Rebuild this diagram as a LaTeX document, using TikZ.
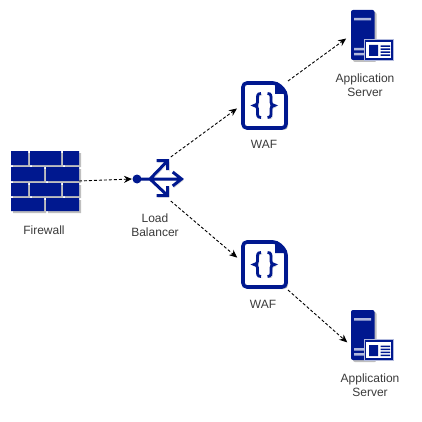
\documentclass[tikz,border=0pt]{standalone}
\usepackage{fontspec}
\setmainfont{Liberation Sans}
\usetikzlibrary{arrows.meta,shadows}
\definecolor{wafblue}{HTML}{00188F}
\definecolor{lbltext}{HTML}{3A3A3A}
\tikzset{
% Empty boxes that hold the icons and take the connectors
icon box/.style={rectangle,inner sep=0,outer sep=0,minimum width=#1},
icon shadow/.style={drop shadow={shadow xshift=2pt,shadow yshift=-2pt,opacity=.25,fill=black}},
line shadow/.style={preaction={draw=black,draw opacity=.2,transform canvas={shift={(1.5pt,-1.5pt)}}}},
link/.style={dash pattern=on 3pt off 2pt,line width=.9pt,black,-{Stealth[length=8pt,width=7pt]}},
lbl/.style={align=center,text=lbltext,font=\fontsize{12}{14}\selectfont,inner sep=0},
% Icons, drawn from the top left corner of their box
firewall icon/.pic={
    \fill[wafblue,icon shadow]
        (0,0) rectangle (17,14) (19,0) rectangle (50,14) (52,0) rectangle (68,14)
        (0,16) rectangle (33,30) (35,16) rectangle (68,30)
        (0,32) rectangle (17,45) (19,32) rectangle (50,45) (52,32) rectangle (68,45)
        (0,47) rectangle (33,60) (35,47) rectangle (68,60);
},
balancer icon/.pic={
    \fill[wafblue] (5,22) circle (4.5);
    \draw[wafblue,line width=3pt,line join=miter,line shadow]
        (5,22) -- (49.5,22)
        (18,22) -- (35.7,3.7) (18,22) -- (35.7,38.7)
        (40.7,15) -- (49.5,22) -- (40.7,29)
        (24.7,3.7) -- (35.7,3.7) -- (35.7,13)
        (24.7,38.7) -- (35.7,38.7) -- (35.7,29);
},
waf icon/.pic={
    \draw[wafblue,line width=3.6pt,fill=white,rounded corners=4pt,icon shadow]
        (2,2) -- (36,2) -- (45,11) -- (45,47) -- (2,47) -- cycle;
    \fill[wafblue] (34,1) -- (46,13) -- (34,13) -- cycle;
    \draw[wafblue,line width=2.8pt,line shadow]
        (20,12.5) .. controls (16,12.5) and (16.5,15) .. (16.5,19) .. controls (16.5,23) and (16,24.5) .. (13,24.5)
        .. controls (16,24.5) and (16.5,26) .. (16.5,30) .. controls (16.5,34) and (16,36.5) .. (20,36.5)
        (26.5,12.5) .. controls (30.5,12.5) and (30,15) .. (30,19) .. controls (30,23) and (30.5,24.5) .. (33.5,24.5)
        .. controls (30.5,24.5) and (30,26) .. (30,30) .. controls (30,34) and (30.5,36.5) .. (26.5,36.5);
},
server icon/.pic={
    \fill[wafblue,rounded corners=2pt,icon shadow] (0,0) rectangle (23.5,50);
    \fill[white!70!wafblue] (3,8) rectangle (20,10.5) (3,38) rectangle (14,40.5) (3,43) rectangle (14,45.5);
    \draw[white!70!wafblue,fill=white,line width=.8pt] (13,29.5) rectangle (42.5,50.5);
    \draw[wafblue,line width=1.3pt] (14.5,31) rectangle (41,49);
    \fill[wafblue] (18,35) rectangle (27,46)
        (29.5,35.5) rectangle (39,37) (29.5,38.5) rectangle (39,40)
        (29.5,41.5) rectangle (39,43) (29.5,44.5) rectangle (39,46);
}
}

\begin{document}
\begin{tikzpicture}[x=1pt,y=-1pt]
\useasboundingbox (0,0) rectangle (421,422);

\node[icon box=68pt,minimum height=60pt] (firewall) at (45,181) {};
\node[icon box=49pt,minimum height=44pt] (balancer) at (156.5,179) {};
\node[icon box=47pt,minimum height=49pt] (wafTop) at (264.5,105.5) {};
\node[icon box=47pt,minimum height=50pt] (wafBottom) at (264.5,265) {};
\node[icon box=42pt,minimum height=50pt] (serverTop) at (372,35) {};
\node[icon box=42pt,minimum height=50pt] (serverBottom) at (372,335) {};

\pic at (firewall.north west) {firewall icon};
\pic at (balancer.north west) {balancer icon};
\pic at (wafTop.north west) {waf icon};
\pic at (wafBottom.north west) {waf icon};
\pic at (serverTop.north west) {server icon};
\pic at (serverBottom.north west) {server icon};

\node[lbl] (firewallText) at (44,230) {Firewall};
\node[lbl] (balancerText) at (155,225) {Load\\Balancer};
\node[lbl] (wafTopText) at (264,144) {WAF};
\node[lbl] (wafBottomText) at (263,304) {WAF};
\node[lbl] (serverTopText) at (365,85) {Application\\Server};
\node[lbl] (serverBottomText) at (370,385) {Application\\Server};

\draw[link] (firewall.east) -- (balancer.west);
\draw[link,shorten >=5pt] (balancer.57) -- (wafTop.west);
\draw[link,shorten >=5pt] (balancer.-57) -- (wafBottom.170);
\draw[link,shorten >=6pt] (wafTop.north east) -- (serverTop.west);
\draw[link,shorten >=5pt] (wafBottom.south east) -- (serverBottom.207);
\end{tikzpicture}
\end{document}
